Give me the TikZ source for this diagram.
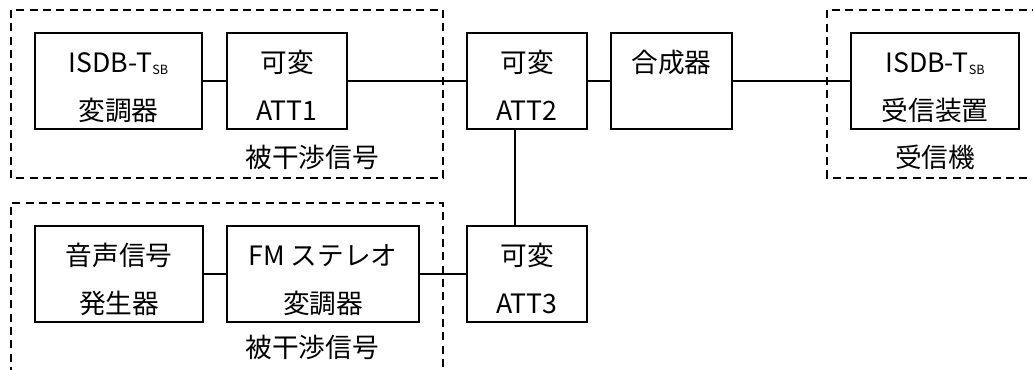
\documentclass[tikz,border=0pt]{standalone}
\usepackage{fontspec}
\setmainfont{Noto Sans CJK JP}
\newcommand\jpfont{\fontsize{20}{36}\selectfont}
\newcommand\rs{\rule[-4pt]{0pt}{31pt}}
\newcommand\sbsub{\raisebox{-1.8pt}{\fontsize{9.5}{9.5}\selectfont SB}}
\begin{document}
\begin{tikzpicture}[x=0.75pt,y=-0.75pt,
  box/.style={draw,line width=1.4pt,minimum height=72pt,inner sep=0pt,align=center,font=\jpfont},
  conn/.style={line width=1.4pt},
  grp/.style={line width=1.2pt,dash pattern=on 6pt off 4pt},
  lbl/.style={inner sep=0pt,font=\jpfont}]
\useasboundingbox (0,0) rectangle (1033,369);
% group frames
\draw[grp] (11,10) rectangle (443,178);
\draw[grp] (1040,10) -- (827,10) -- (827,178) -- (1040,178);
\draw[grp] (11,375) -- (11,203) -- (443,203) -- (443,375);
% upper row
\node[box,minimum width=125.25pt] (modA) at (118.5,81) {\rs ISDB-T\sbsub\\\rs 変調器};
\node[box,minimum width=90pt] (att1) at (287,81) {\rs 可変\\\rs ATT1};
\node[box,minimum width=90pt] (att2) at (527,81) {\rs 可変\\\rs ATT2};
\node[box,minimum width=90.75pt] (comb) at (671.5,81) {\rs 合成器\\\rs};
\node[box,minimum width=126pt] (recv) at (935,81) {\rs ISDB-T\sbsub\\\rs 受信装置};
% lower row
\node[box,minimum width=126pt] (sig) at (119,274) {\rs 音声信号\\\rs 発生器};
\node[box,minimum width=144pt] (fm) at (323,274) {\rs FM ステレオ\\\rs 変調器};
\node[box,minimum width=90pt] (att3) at (527,274) {\rs 可変\\\rs ATT3};
% labels
\node[lbl] (lblA) at (312,157) {被干渉信号};
\node[lbl] (lblB) at (312,347) {被干渉信号};
\node[lbl] (lblC) at (935,157) {受信機};
% connectors
\draw[conn] (modA.east) -- (att1.west);
\draw[conn] (att1.east) -- (att2.west);
\draw[conn] (att2.east) -- (comb.west);
\draw[conn] (comb.east) -- (recv.west);
\draw[conn] (sig.east) -- (fm.west);
\draw[conn] (fm.east) -- (att3.west);
\draw[conn] ([xshift=-9pt]att2.south) -- ([xshift=-9pt]att3.north);
\end{tikzpicture}
\end{document}
